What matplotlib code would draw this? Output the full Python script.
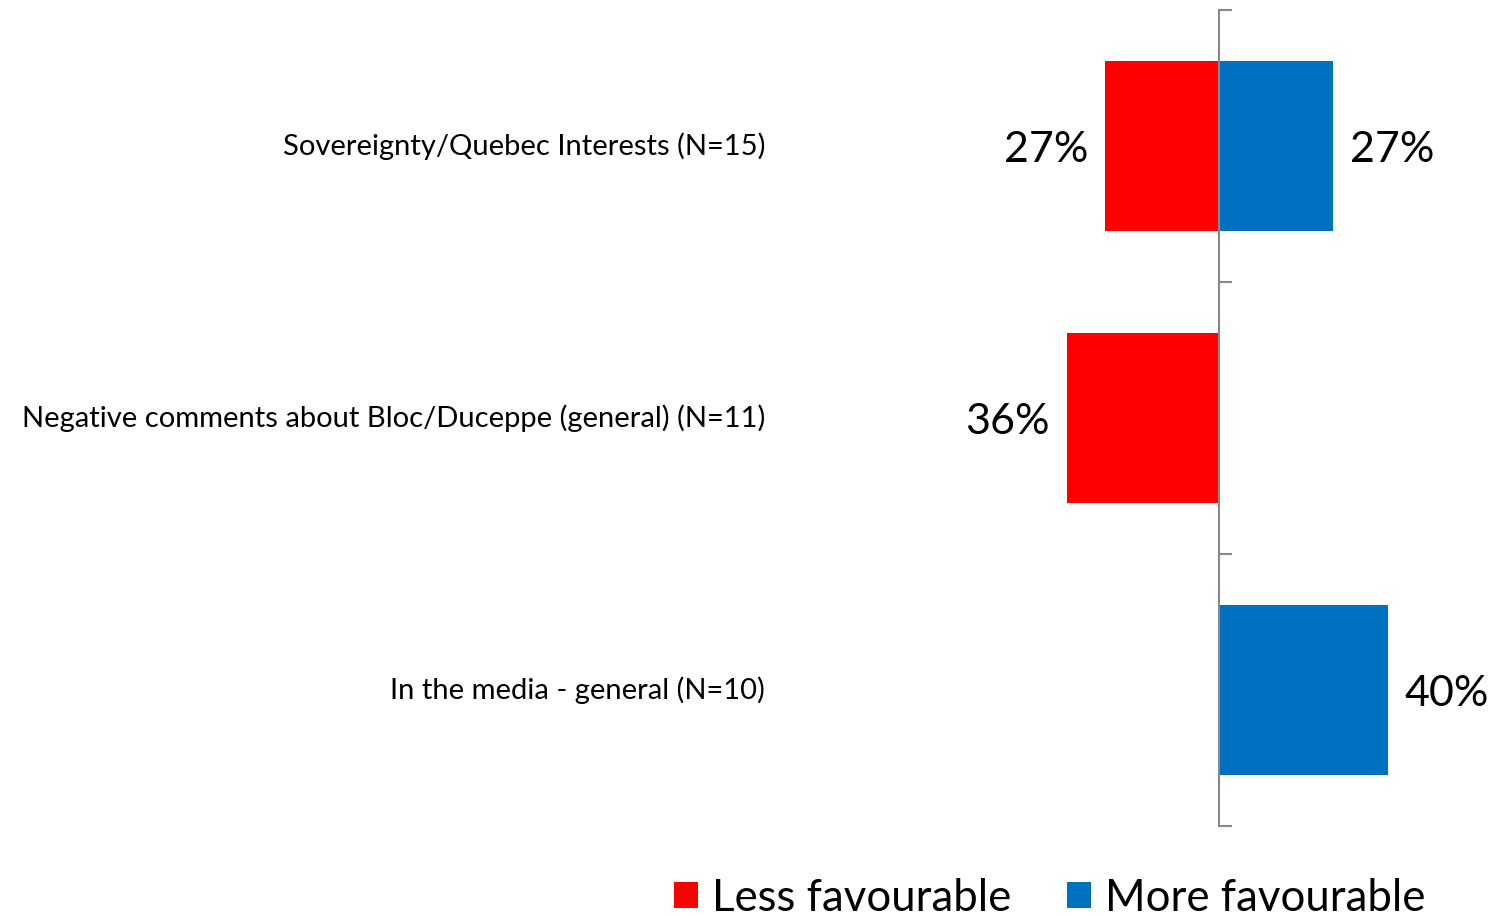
import numpy as np
import matplotlib.pyplot as plt
import matplotlib.transforms as mtransforms

plt.rcParams['font.family'] = ['Lato', 'DejaVu Sans']

categories = ['Sovereignty/Quebec Interests (N=15)',
              'Negative comments about Bloc/Duceppe (general) (N=11)',
              'In the media - general (N=10)']
less_fav = [27, 36, 0]   # shown to the left
more_fav = [27, 0, 40]   # shown to the right
series_names = ['Less favourable', 'More favourable']
red = '#FF0000'
blue = '#0070C0'

W, H = 1489, 916
fig = plt.figure(figsize=(W / 100, H / 100), dpi=100)
# axes from x=800px to right edge, y from 10px to 826px
ax = fig.add_axes([800 / W, (H - 826) / H, (W - 800) / W, 816 / H])

y = np.arange(len(categories))
bh = 0.625
b1 = ax.barh(y, [-v for v in less_fav], height=bh, color=red, label=series_names[0])
b2 = ax.barh(y, more_fav, height=bh, color=blue, label=series_names[1])

px = 4.22  # pixels per percent
ax.set_xlim(-(1219 - 800) / px, (W - 1219) / px)
ax.set_ylim(len(categories) - 0.5, -0.5)

for s in ['top', 'right', 'bottom']:
    ax.spines[s].set_visible(False)
ax.spines['left'].set_position(('data', 0))
ax.spines['left'].set_color('#888888')
ax.spines['left'].set_linewidth(1.5)
ax.set_xticks([])
ax.set_yticks(np.arange(len(categories) + 1) - 0.5)
ax.tick_params(axis='y', direction='in', length=9, width=1.5, color='#888888',
               labelleft=False)

# category labels, right aligned at x=765px
trans = mtransforms.blended_transform_factory(fig.transFigure, ax.transData)
for i, c in enumerate(categories):
    ax.text(765 / W, i, c, transform=trans, ha='right', va='center',
            fontsize=21, color='black', clip_on=False)

gap = 17 / px
for i in range(len(categories)):
    if less_fav[i]:
        ax.text(-less_fav[i] - gap, i, f'{less_fav[i]}%', ha='right',
                va='center_baseline', fontsize=31)
    if more_fav[i]:
        ax.text(more_fav[i] + gap, i, f'{more_fav[i]}%', ha='left',
                va='center_baseline', fontsize=31)

fig.legend(handles=[b1, b2], loc='lower left', bbox_to_anchor=(656 / W, -0.022),
           ncol=2, frameon=False, fontsize=31.5, handlelength=0.55, handleheight=0.55,
           handletextpad=0.32, columnspacing=1.28, borderaxespad=0)

fig.savefig('out.png', dpi=100)
